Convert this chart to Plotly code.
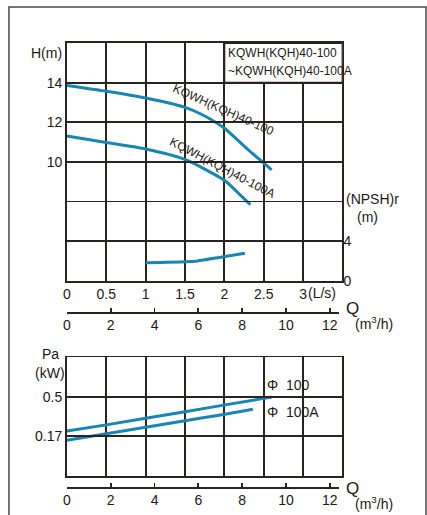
import plotly.graph_objects as go

# ---------------- data ----------------
# H-Q curves (Q in L/s, H in m)
q_h100 = [0, 0.5, 1.0, 1.5, 1.72, 2.0, 2.3, 2.6]
h_100 = [13.85, 13.56, 13.22, 12.75, 12.38, 11.7, 10.62, 9.6]
q_h100a = [0, 0.5, 1.0, 1.5, 2.0, 2.17, 2.33]
h_100a = [11.31, 10.98, 10.65, 10.12, 9.07, 8.45, 7.84]
# NPSHr curve (Q in L/s, m)
q_npsh = [1.0, 1.5, 1.66, 1.97, 2.26]
npsh_r = [1.82, 1.92, 2.0, 2.4, 2.77]
# Power curves (Q in m3/h, kW)
q_pa100 = [0, 1.8, 5.4, 7.1, 9.36]
pa_100 = [0.214, 0.265, 0.375, 0.428, 0.498]
q_pa100a = [0, 1.8, 5.4, 7.1, 8.5]
pa_100a = [0.137, 0.19, 0.3, 0.35, 0.396]

# tick labels / grid positions
ls_ticks = [0, 0.5, 1, 1.5, 2, 2.5, 3]
ls_text = ["0", "0.5", "1", "1.5", "2", "2.5", "3"]
h_ticks = [10, 12, 14]
h_minor = [6, 8]
npsh_ticks = [0, 4]
m3h_ticks = [0, 2, 4, 6, 8, 10, 12]
pa_ticks = [0.17, 0.5]
pa_text = ["0.17", "0.5"]
m3h_grid = [1.8, 3.6, 5.4, 7.2, 9.0, 10.8]

# ---------------- style ----------------
W, H = 427, 515          # target picture size
H_LAYOUT = 523           # layout height (compensates for vertical capture scaling)
GRID = "#2a2321"
BLUE = "#1786b1"
TXT = "#231815"
FONT = "Liberation Sans, Arial, sans-serif"
GW = 1.8


def px(x):
    return x / W


def py(y):
    return 1 - y / H


fig = go.Figure()

line_style = dict(color=BLUE, width=3, shape="spline", smoothing=0.6)
fig.add_trace(go.Scatter(x=q_h100, y=h_100, mode="lines", line=line_style,
                         xaxis="x", yaxis="y", hoverinfo="skip"))
fig.add_trace(go.Scatter(x=q_h100a, y=h_100a, mode="lines", line=line_style,
                         xaxis="x", yaxis="y", hoverinfo="skip"))
fig.add_trace(go.Scatter(x=q_npsh, y=npsh_r, mode="lines", line=line_style,
                         xaxis="x", yaxis="y2", hoverinfo="skip"))
fig.add_trace(go.Scatter(x=q_pa100, y=pa_100, mode="lines", line=line_style,
                         xaxis="x2", yaxis="y3", hoverinfo="skip"))
fig.add_trace(go.Scatter(x=q_pa100a, y=pa_100a, mode="lines", line=line_style,
                         xaxis="x2", yaxis="y3", hoverinfo="skip"))
# carriers for the m3/h scale axes
fig.add_trace(go.Scatter(x=[None], y=[None], xaxis="x3", yaxis="y", hoverinfo="skip"))
fig.add_trace(go.Scatter(x=[None], y=[None], xaxis="x4", yaxis="y3", hoverinfo="skip"))

grid_axis = dict(showgrid=True, gridcolor=GRID, gridwidth=GW, showline=True,
                 mirror=True, linecolor=GRID, linewidth=GW, zeroline=False,
                 ticks="", tickfont=dict(family=FONT, size=14, color=TXT),
                 fixedrange=True)
scale_axis = dict(showgrid=False, zeroline=False, showline=True, linecolor=GRID,
                  linewidth=GW, ticks="inside", ticklen=4, tickwidth=GW,
                  tickcolor=GRID, tickfont=dict(family=FONT, size=14, color=TXT),
                  fixedrange=True)
minor_grid = dict(showgrid=True, gridcolor=GRID, gridwidth=GW, ticks="")

fig.update_layout(
    width=W, height=H_LAYOUT, autosize=False, showlegend=False,
    margin=dict(l=0, r=0, t=0, b=0),
    paper_bgcolor="white", plot_bgcolor="rgba(0,0,0,0)",
    xaxis=dict(domain=[px(63.5), px(341.7)], range=[0, 3.5], tickvals=ls_ticks,
               ticktext=ls_text, anchor="y", **grid_axis),
    yaxis=dict(domain=[py(280.7), py(43)], range=[4, 16], tickvals=h_ticks,
               minor=dict(tickvals=h_minor, **minor_grid), anchor="x", **grid_axis),
    yaxis2=dict(overlaying="y", side="right", range=[0, 24], tickvals=npsh_ticks,
                showgrid=False, showline=False, zeroline=False, ticks="",
                tickfont=dict(family=FONT, size=14, color=TXT), anchor="x",
                fixedrange=True),
    xaxis2=dict(domain=[px(63.5), px(341.7)], range=[0, 12.6], tickvals=m3h_grid,
                showticklabels=False, anchor="y3", **grid_axis),
    yaxis3=dict(domain=[py(475.7), py(357.3)], range=[-0.16, 0.83], tickvals=pa_ticks,
                ticktext=pa_text, anchor="x2", **grid_axis),
    xaxis3=dict(domain=[px(63.5), px(338)], range=[0, 12.41], tickvals=m3h_ticks,
                anchor="free", position=py(311.7), **scale_axis),
    xaxis4=dict(domain=[px(63.5), px(338)], range=[0, 12.41], tickvals=m3h_ticks,
                anchor="free", position=py(486.7), **scale_axis),
)

# shapes: outer frame and title cell
fig.add_shape(type="rect", xref="paper", yref="paper", x0=px(5), x1=px(426),
              y0=py(540), y1=py(7), line=dict(color="#4a4a4a", width=1.5),
              fillcolor="rgba(0,0,0,0)", layer="above")
fig.add_shape(type="rect", xref="x", yref="y", x0=2, x1=3.5, y0=14, y1=16,
              line=dict(color=GRID, width=GW), fillcolor="white", layer="above")


def note(text, x, y, xanchor="center", size=14, angle=0):
    fig.add_annotation(text=text, x=px(x), y=py(y), xref="paper", yref="paper",
                       xanchor=xanchor, yanchor="middle", showarrow=False,
                       textangle=angle,
                       font=dict(family=FONT, size=size, color=TXT))


note("H(m)", 61, 53, xanchor="right")
note("(NPSH)r", 343, 199, xanchor="left")
note("(m)", 367, 217)
note("(L/s)", 305, 293, xanchor="left")
note("KQWH(KQH)40-100", 224, 53, xanchor="left", size=12)
note("~KQWH(KQH)40-100A", 224, 71, xanchor="left", size=12)
note("KQWH(KQH)40-100", 222, 110, size=12, angle=24)
note("KQWH(KQH)40-100A", 221, 168, size=12, angle=27.6)
note("Q", 352, 308, size=17)
note("(m<sup>3</sup>/h)", 373, 323)
note("Q", 352, 488, size=17)
note("(m<sup>3</sup>/h)", 373, 503)
note("Pa", 47, 354)
note("(kW)", 46, 373)
note("Φ\u00a0\u00a0100", 263, 385, xanchor="left")
note("Φ\u00a0\u00a0100A", 263, 412, xanchor="left")

fix_page = "document.body.style.margin='0';"
fig.write_html("out.html", config={"displayModeBar": False, "staticPlot": True},
               post_script=fix_page)
